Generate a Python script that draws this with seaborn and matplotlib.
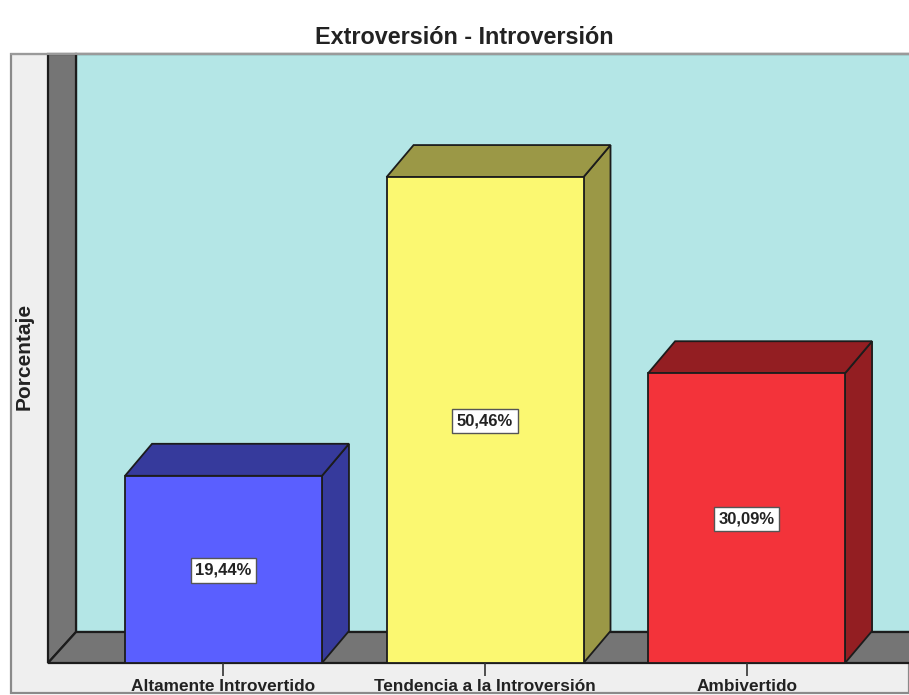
import pandas as pd
import seaborn as sns
import matplotlib.pyplot as plt
from matplotlib.lines import Line2D
from matplotlib.patches import Polygon, Rectangle

categorias = ['Altamente Introvertido', 'Tendencia a la Introversión', 'Ambivertido']
porcentajes = [19.44, 50.46, 30.09]
etiquetas = ['19,44%', '50,46%', '30,09%']
colores = ['#5A5FFF', '#FBF871', '#F3333A']
colores_oscuros = ['#363A9C', '#9B9846', '#931E22']

W, H = 909, 695
# plot area in pixels of the image
X0, X1, Y_BASE, Y_TOP = 48, 909, 663, 54
DX, DY = 27, 32


def px(x, y):
    """ Image pixels to figure fraction. """
    return x / W, 1 - y / H


def fig_poly(fig, pts, color, zorder=0):
    fig.add_artist(Polygon([px(*p) for p in pts], closed=True, transform=fig.transFigure,
                           facecolor=color, edgecolor='#1c1c1c', linewidth=1.6, zorder=zorder))


def main():
    sns.set_theme(style='white')
    plt.rcParams['font.family'] = ['Liberation Sans', 'DejaVu Sans']

    fig = plt.figure(figsize=(W / 100, H / 100), dpi=100, facecolor='white')

    # outer frame and grey panel
    fig.add_artist(Rectangle(px(11, 693), (W - 11) / W, 639 / H, transform=fig.transFigure,
                             facecolor='#EFEFEF', edgecolor='#8a8a8a', linewidth=1.6, zorder=0))
    # teal back wall, grey side wall and floor
    fig_poly(fig, [(76, 54), (912, 54), (912, 632), (76, 632)], '#B4E6E6')
    fig_poly(fig, [(48, 54), (76, 54), (76, 632), (48, 663)], '#757575')
    fig_poly(fig, [(76, 632), (912, 632), (912, 663), (48, 663)], '#757575')
    # the top edge of the frame stays light grey
    xs, ys = zip(px(11, 54), px(909, 54))
    fig.add_artist(Line2D(xs, ys, color='#9a9a9a', linewidth=1.5, zorder=1))

    ax = fig.add_axes([X0 / W, 1 - Y_BASE / H, (X1 - X0) / W, (Y_BASE - Y_TOP) / H])
    ax.patch.set_alpha(0)

    df = pd.DataFrame({'categoria': categorias, 'porcentaje': porcentajes})
    sns.barplot(data=df, x='categoria', y='porcentaje', hue='categoria', palette=colores,
                width=0.753, legend=False, saturation=1, edgecolor='#1c1c1c', linewidth=1.3,
                zorder=3, ax=ax)

    ax.set_xlim(-0.671, 2.621)
    ax.set_ylim(0, 63.24)
    for s in ax.spines.values():
        s.set_visible(False)
    ax.set_yticks([])
    ax.set_xlabel('')
    ax.set_ylabel('')
    ax.tick_params(axis='x', bottom=True, length=9, width=1.2, color='#333333', pad=2.5)
    ax.set_xticks(range(len(categorias)))
    ax.set_xticklabels(categorias, fontsize=12.4, fontweight='bold', color='#222222')

    # depth of each bar, offset taken from the pixels of the reference
    to_data = ax.transData.inverted()
    o = to_data.transform((0, 0))
    d = to_data.transform((DX, DY)) - o
    for bar, oscuro, etiqueta in zip(ax.patches, colores_oscuros, etiquetas):
        x0, x1, h = bar.get_x(), bar.get_x() + bar.get_width(), bar.get_height()
        ax.add_patch(Polygon([(x1, 0), (x1 + d[0], d[1]), (x1 + d[0], h + d[1]), (x1, h)],
                             facecolor=oscuro, edgecolor='#1c1c1c', linewidth=1.3, zorder=2))
        ax.add_patch(Polygon([(x0, h), (x0 + d[0], h + d[1]), (x1 + d[0], h + d[1]), (x1, h)],
                             facecolor=oscuro, edgecolor='#1c1c1c', linewidth=1.3, zorder=2))
        ax.text((x0 + x1) / 2, h / 2 - 0.1, etiqueta, ha='center', va='center', fontsize=12,
                fontweight='bold', color='#222222', zorder=5,
                bbox=dict(boxstyle='square,pad=0.28', facecolor='white', edgecolor='#555555', linewidth=1))

    fig.text(464 / W, 1 - 38 / H, 'Extroversión - Introversión', ha='center', va='center',
             fontsize=16.8, fontweight='bold', color='#222222')
    fig.text(24 / W, 1 - 356 / H, 'Porcentaje', ha='center', va='center', rotation=90,
             fontsize=15, fontweight='bold', color='#222222')

    fig.savefig('out.png', dpi=100)


if __name__ == "__main__":
    main()
